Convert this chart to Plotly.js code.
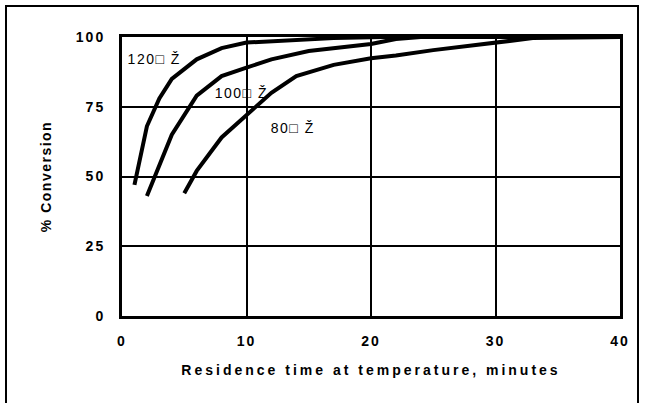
<!DOCTYPE html>
<html>
<head>
<meta charset="utf-8">
<script src="https://cdn.plot.ly/plotly-3.0.1.min.js"></script>
<style>
  html, body { margin: 0; padding: 0; background: #fff; }
  #wrap { position: relative; width: 646px; height: 403px; overflow: hidden; }
  #chart { position: absolute; left: 0; top: 0; width: 646px; height: 403px; }
  #frame { position: absolute; left: 5px; top: 5px; width: 634px; height: 420px;
           border: 2px solid #000; pointer-events: none; box-sizing: border-box; }
  .xtick text, .ytick text { letter-spacing: 2px; }
  text.xtitle { letter-spacing: 3px; }
  text.ytitle { letter-spacing: 1.5px; }
  .textpoint text { letter-spacing: 1.5px; }
</style>
</head>
<body>
<div id="wrap">
  <div id="chart"></div>
  <div id="frame"></div>
</div>
<script>
// Residence time (minutes) and % conversion for each temperature curve
const t120 = [1, 2, 3, 4, 6, 8, 10, 14, 17, 21, 40];
const c120 = [47, 68, 78, 85, 92, 96, 98, 99, 99.6, 100, 100];

const t100 = [2, 4, 6, 8, 10, 12, 15, 20, 22, 24, 40];
const c100 = [43, 65, 79, 86, 89, 92, 95, 97.5, 99.3, 100, 100];

const t80 = [5, 6, 8, 10, 12, 14, 17, 20, 22, 25, 30, 33, 40];
const c80 = [44, 52, 64, 72, 80, 86, 90, 92.4, 93.4, 95.3, 97.8, 99.6, 100];

// curve labels
const labelX = [0.45, 7.45, 11.95];
const labelY = [91.5, 79.3, 67.0];
const labelText = ["120\u25A1 \u017D", "100\u25A1 \u017D", "80\u25A1 \u017D"];

const xTickVals = [0, 10, 20, 30, 40];
const yTickVals = [0, 25, 50, 75, 100];

const xTitle = "Residence time at temperature, minutes";
const yTitle = "% Conversion";

const lineStyle = { color: "#000", width: 4 };

const traces = [
  { x: labelX, y: labelY, text: labelText, mode: "text", type: "scatter",
    textposition: "middle right", hoverinfo: "skip",
    textfont: { family: "Liberation Sans, Arial, sans-serif", size: 14, color: "#000" } },
  { x: t120, y: c120, mode: "lines", type: "scatter", line: lineStyle },
  { x: t100, y: c100, mode: "lines", type: "scatter", line: lineStyle },
  { x: t80, y: c80, mode: "lines", type: "scatter", line: lineStyle }
];

const tickFont = { family: "Liberation Sans, Arial, sans-serif", size: 14, color: "#000", weight: "bold" };

const layout = {
  width: 646, height: 403,
  margin: { l: 122, r: 26, t: 37, b: 87 },
  paper_bgcolor: "#fff", plot_bgcolor: "#fff",
  showlegend: false,
  xaxis: {
    range: [0, 40], tickvals: xTickVals, ticktext: xTickVals.map(String),
    showgrid: true, gridcolor: "#000", gridwidth: 2, zeroline: false,
    showline: true, linecolor: "#000", linewidth: 3, mirror: true,
    ticks: "", ticklabelstandoff: 10, tickfont: tickFont,
    title: { text: xTitle, standoff: 18,
      font: { family: "Liberation Sans, Arial, sans-serif", size: 14, color: "#000", weight: "bold" } }
  },
  yaxis: {
    range: [0, 100], tickvals: yTickVals, ticktext: yTickVals.map(String),
    showgrid: true, gridcolor: "#000", gridwidth: 2, zeroline: false,
    showline: true, linecolor: "#000", linewidth: 3, mirror: true,
    ticks: "", ticklabelstandoff: 11, tickfont: tickFont,
    title: { text: yTitle, standoff: 21,
      font: { family: "Liberation Sans, Arial, sans-serif", size: 14, color: "#000", weight: "bold" } }
  }
};

Plotly.newPlot("chart", traces, layout, { staticPlot: true, displayModeBar: false });
</script>
</body>
</html>
